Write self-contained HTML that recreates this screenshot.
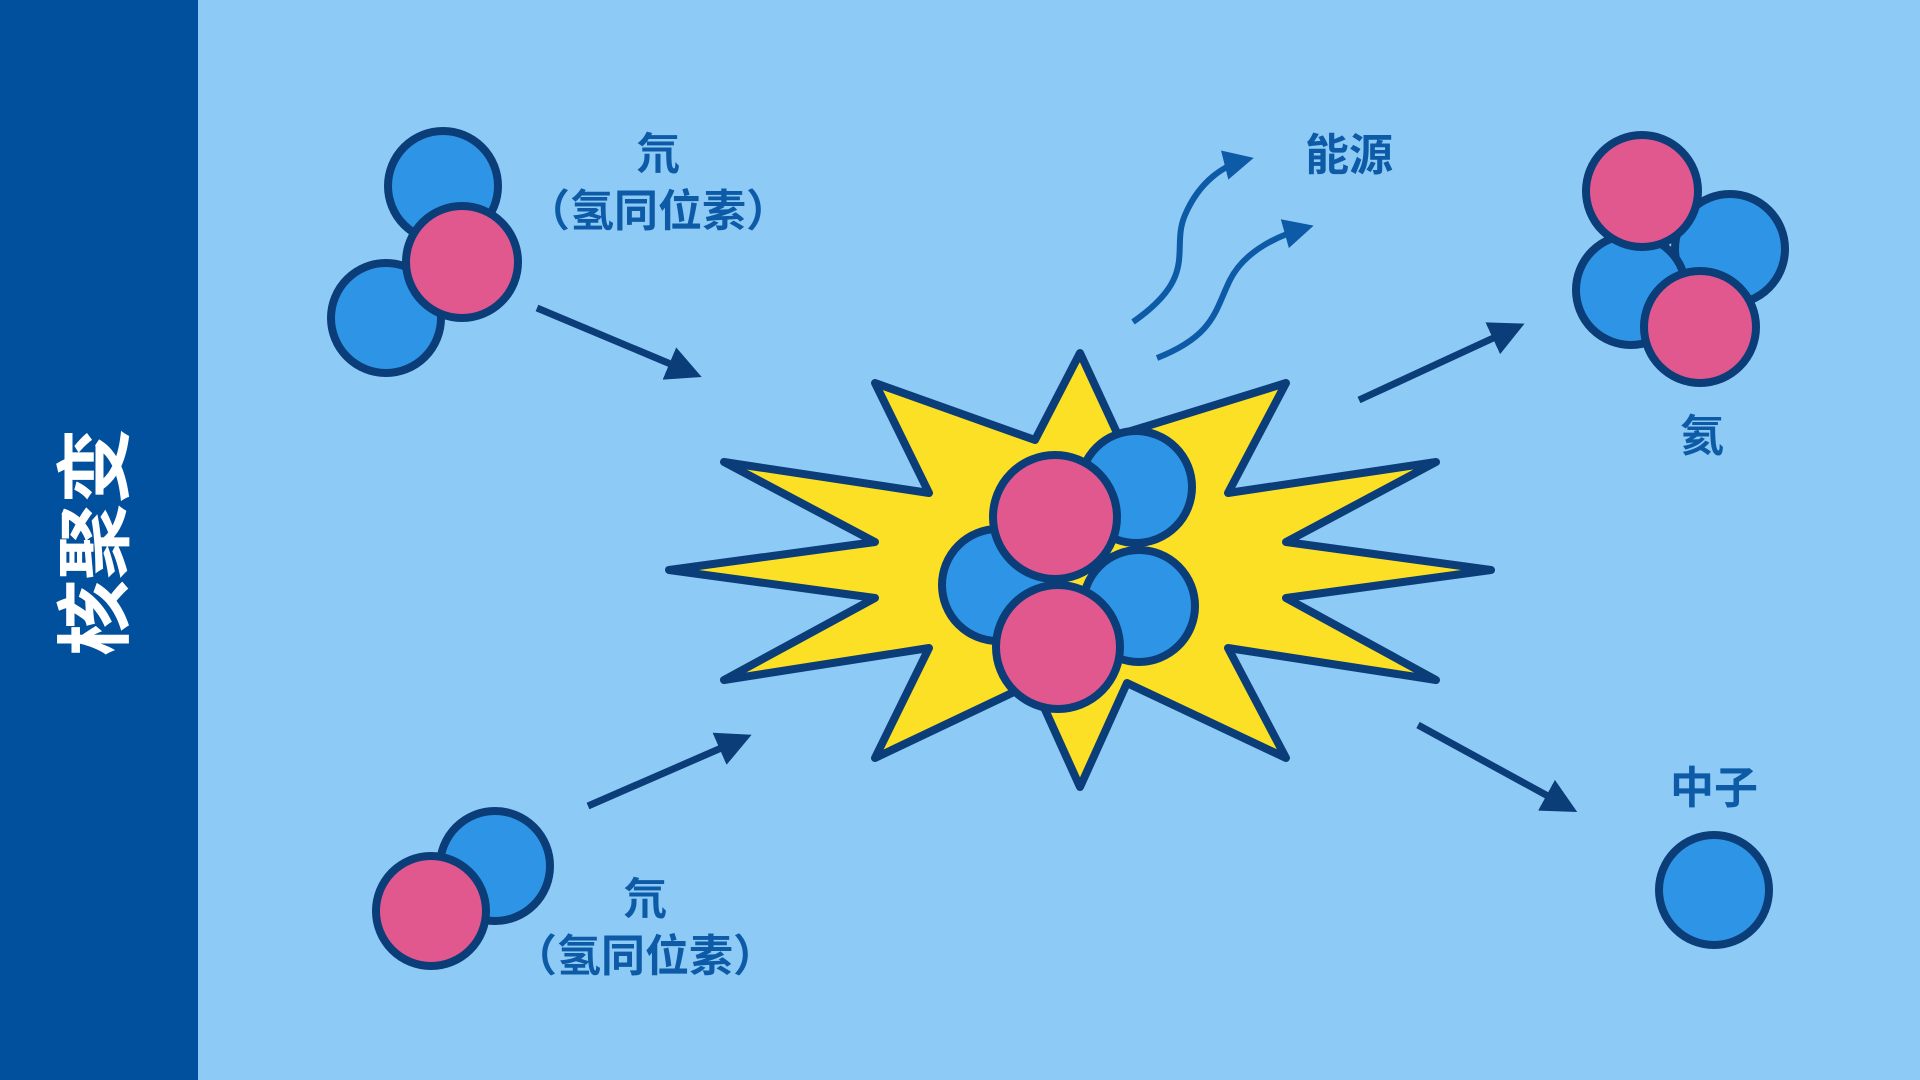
<!DOCTYPE html>
<html><head><meta charset="utf-8"><style>
html,body{margin:0;padding:0;width:1920px;height:1080px;overflow:hidden;background:#8ecaf6}
svg{display:block}
text{font-family:"Liberation Sans","Noto Sans CJK SC",sans-serif;font-weight:bold}
</style></head><body>
<svg width="1920" height="1080" viewBox="0 0 1920 1080">
<defs>
<marker id="ah" markerWidth="5" markerHeight="5" refX="3.5" refY="2.5" orient="auto" markerUnits="strokeWidth">
<path d="M0,0 L5,2.5 L0,5 Z" fill="#0b3d78"/></marker>
<marker id="ah2" markerWidth="5" markerHeight="5" refX="3.5" refY="2.5" orient="auto" markerUnits="strokeWidth">
<path d="M0,0 L5,2.5 L0,5 Z" fill="#0d5aa7"/></marker>
</defs>
<rect x="0" y="0" width="1920" height="1080" fill="#8ecaf6"/>
<rect x="0" y="0" width="198" height="1080" fill="#00509e"/>
<text transform="translate(122,542) rotate(-90)" text-anchor="middle" font-size="76" fill="#fff">核聚变</text>

<g stroke="#0b3d78" stroke-width="8">
<circle cx="443" cy="186" r="55" fill="#2e95e6"/>
<circle cx="386" cy="318" r="55" fill="#2e95e6"/>
<circle cx="462" cy="262" r="56" fill="#e0588e"/>
<circle cx="495" cy="866" r="55" fill="#2e95e6"/>
<circle cx="431" cy="911" r="55" fill="#e0588e"/>
<circle cx="1730" cy="249" r="55" fill="#2e95e6"/>
<circle cx="1631" cy="290" r="55" fill="#2e95e6"/>
<circle cx="1642" cy="191" r="56" fill="#e0588e"/>
<circle cx="1700" cy="327" r="56" fill="#e0588e"/>
<circle cx="1714" cy="890" r="55" fill="#2e95e6"/>
</g>

<polygon stroke="#0b3d78" stroke-width="8" stroke-linejoin="round" fill="#fce025"
points="1080,353 1118,435 1286,383 1228,493 1436,462 1286,542 1491,570 1286,598 1436,680 1228,648 1286,758 1127,683 1080,787 1033,683 875,758 929,648 724,680 875,598 669,570 875,542 724,462 929,493 875,383 1035,440"/>
<g stroke="#0b3d78" stroke-width="8">
<circle cx="1136" cy="487" r="56" fill="#2e95e6"/>
<circle cx="998" cy="585" r="56" fill="#2e95e6"/>
<circle cx="1139" cy="606" r="56" fill="#2e95e6"/>
<circle cx="1055" cy="517" r="62" fill="#e0588e"/>
<circle cx="1058" cy="647" r="62" fill="#e0588e"/>
</g>

<g stroke="#0b3d78" stroke-width="7" fill="none">
<line x1="537" y1="308" x2="692" y2="373" marker-end="url(#ah)"/>
<line x1="588" y1="806" x2="742" y2="739" marker-end="url(#ah)"/>
<line x1="1359" y1="400" x2="1515" y2="328" marker-end="url(#ah)"/>
<line x1="1418" y1="725" x2="1568" y2="807" marker-end="url(#ah)"/>
</g>
<g stroke="#0d5aa7" stroke-width="6" fill="none">
<path d="M1133,322 C1200,275 1170,250 1185,215 C1200,180 1225,165 1245,160" marker-end="url(#ah2)"/>
<path d="M1157,358 C1215,335 1215,310 1230,280 C1245,250 1280,235 1305,228" marker-end="url(#ah2)"/>
</g>

<g fill="#0d5aa7" text-anchor="middle">
<text x="658" y="169" font-size="44">氘</text>
<text x="658" y="226" font-size="44">（氢同位素）</text>
<text x="645" y="914" font-size="44">氘</text>
<text x="645" y="971" font-size="44">（氢同位素）</text>
<text x="1349" y="170" font-size="44">能源</text>
<text x="1702" y="451" font-size="44">氦</text>
<text x="1714" y="803" font-size="44">中子</text>
</g>
</svg>
</body></html>
